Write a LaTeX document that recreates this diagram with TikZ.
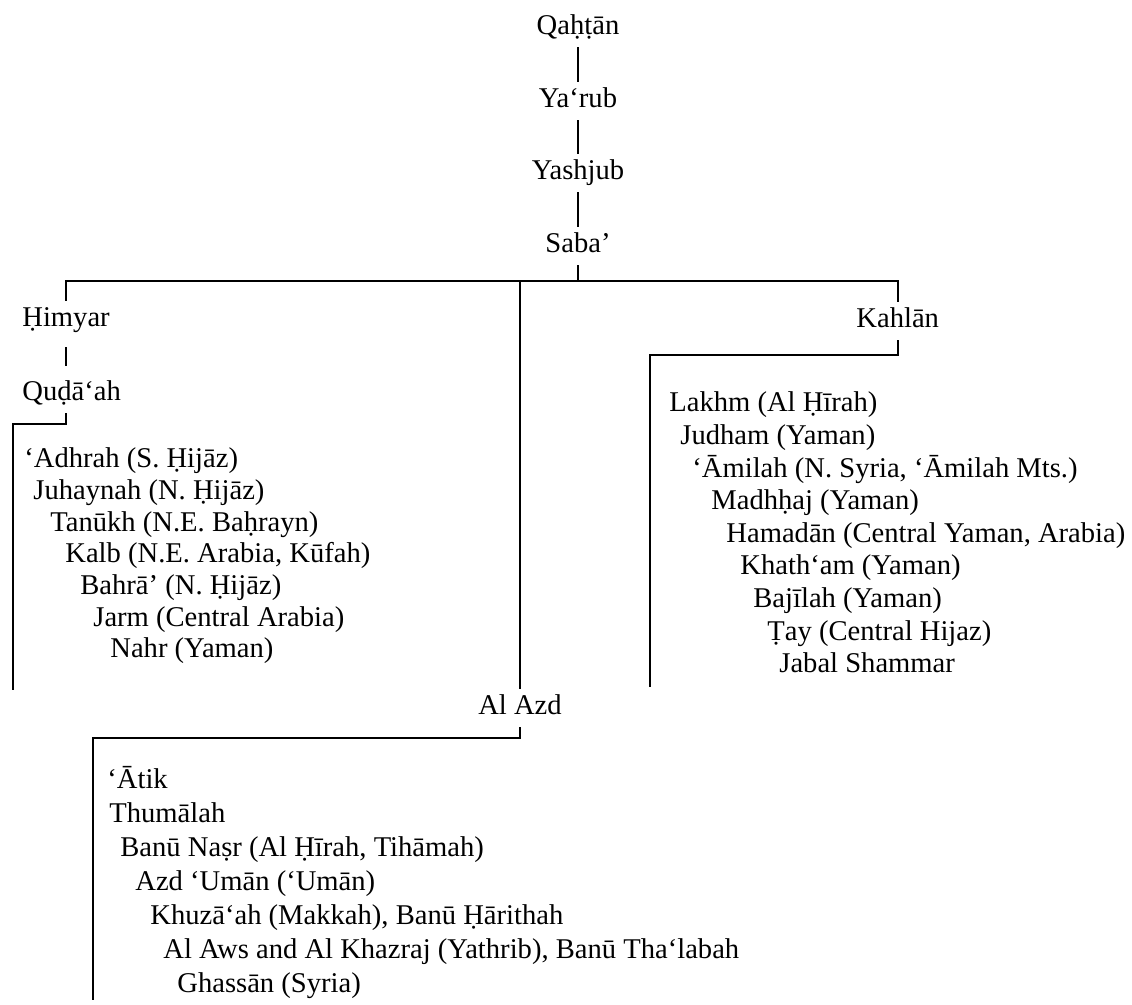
\documentclass[tikz,border=0pt]{standalone}
\usepackage{fontspec}
\setmainfont{Liberation Serif}
\begin{document}
\begin{tikzpicture}[x=0.5pt,y=-0.5pt,
  lbl/.style={inner sep=0pt, text height=13pt, text depth=6pt, font=\fontsize{14.3}{16}\selectfont},
  tx/.style={lbl, anchor=base west},
  tc/.style={lbl, anchor=base},
  conn/.style={line width=0.9pt}]
\useasboundingbox (0,0) rectangle (1132,1005);

% top chain
\node[tc] (qahtan) at (578,35) {Qaḥṭān};
\node[tc] (yarub) at (578,108) {Ya‘rub};
\node[tc] (yashjub) at (578,180) {Yashjub};
\node[tc] (saba) at (578,253) {Saba’};
\coordinate (bar) at (578,281);
\draw[conn] (qahtan.south) -- (yarub.north);
\draw[conn] (yarub.south) -- (yashjub.north);
\draw[conn] (yashjub.south) -- (saba.north);
\draw[conn] (saba.south) -- (bar);

% second level
\node[tx] (himyar) at (22,327) {Ḥimyar};
\node[tx] (kahlan) at (856,328) {Kahlān};
\node[tc] (azd) at (520,715) {Al Azd};
\draw[conn] (himyar.north) -- (himyar.north |- bar) -- (kahlan.north |- bar) -- (kahlan.north);
\draw[conn] (azd.north) -- (azd.north |- bar);

% Quda'ah
\node[tx] (quda) at (22,401) {Quḍā‘ah};
\draw[conn, shorten <=4pt, shorten >=4.5pt] (himyar.south) -- (himyar.south |- quda.north);
\coordinate (qb) at (13,424);
\coordinate (lend) at (13,690);
\draw[conn] (himyar.south |- quda.south) -- (himyar.south |- qb) -- (qb) -- (lend);

% left list
\node[tx] (l1) at (24,468) {‘Adhrah (S. Ḥijāz)};
\node[tx] (l2) at (33,500) {Juhaynah (N. Ḥijāz)};
\node[tx] (l3) at (50,532) {Tanūkh (N.E. Baḥrayn)};
\node[tx] (l4) at (65,563) {Kalb (N.E. Arabia, Kūfah)};
\node[tx] (l5) at (80,595) {Bahrā’ (N. Ḥijāz)};
\node[tx] (l6) at (93,627) {Jarm (Central Arabia)};
\node[tx] (l7) at (110,658) {Nahr (Yaman)};

% Kahlan bracket and list
\coordinate (kb) at (650,355);
\coordinate (rend) at (650,687);
\draw[conn] (kahlan.south) -- (kahlan.south |- kb) -- (kb) -- (rend);
\node[tx] (r1) at (669,412) {Lakhm (Al Ḥīrah)};
\node[tx] (r2) at (680,444.6) {Judham (Yaman)};
\node[tx] (r3) at (692,477.2) {‘Āmilah (N. Syria, ‘Āmilah Mts.)};
\node[tx] (r4) at (711,509.8) {Madhḥaj (Yaman)};
\node[tx] (r5) at (726,542.4) {Hamadān (Central Yaman, Arabia)};
\node[tx] (r6) at (740,575) {Khath‘am (Yaman)};
\node[tx] (r7) at (753,607.6) {Bajīlah (Yaman)};
\node[tx] (r8) at (767,640.2) {Ṭay (Central Hijaz)};
\node[tx] (r9) at (779,672.8) {Jabal Shammar};

% Al Azd bracket and list
\coordinate (ab) at (93,738);
\coordinate (bend) at (93,1000);
\draw[conn] (azd.south) -- (azd.south |- ab) -- (ab) -- (bend);
\node[tx] (b1) at (107,789) {‘Ātik};
\node[tx] (b2) at (109,823) {Thumālah};
\node[tx] (b3) at (120,857) {Banū Naṣr (Al Ḥīrah, Tihāmah)};
\node[tx] (b4) at (135,891) {Azd ‘Umān (‘Umān)};
\node[tx] (b5) at (150,925) {Khuzā‘ah (Makkah), Banū Ḥārithah};
\node[tx] (b6) at (163,959) {Al Aws and Al Khazraj (Yathrib), Banū Tha‘labah};
\node[tx] (b7) at (177,993) {Ghassān (Syria)};
\end{tikzpicture}
\end{document}
